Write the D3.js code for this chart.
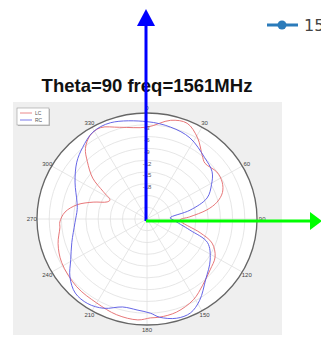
<!DOCTYPE html>
<html><head><meta charset="utf-8">
<script src="https://cdn.jsdelivr.net/npm/d3@7/dist/d3.min.js"></script>
<style>html,body{margin:0;padding:0;background:#fff;overflow:hidden}</style>
</head><body>
<svg id="c" width="321" height="340"></svg>
<script>
const titleText = "Theta=90 freq=1561MHz";
const legendLabel = "1561MHz";
const seriesNames = ["LC", "RC"];
const angleTicks = [0,30,60,90,120,150,180,210,240,270,300,330];
const radialTicks = [-3,-6,-9,-12,-15,-18];
const lcAngles = [0,13,22,31,40,45,55,63,70,76,81,87,92,105,111,120,130,141,151,163,173,178,185,197,210,225,242,254,264,268,275,282,288,294,298,303,308,315,320,327,334,344];
const lcValues = [-3.6,-1.2,-0.7,-2.9,-5.9,-6.9,-6.1,-6.3,-7.3,-9.3,-12.1,-16.5,-18.9,-13.5,-9.9,-7.7,-6.8,-5.3,-3.5,-2.2,-1.8,-1.8,-1.2,-1.5,-2.3,-2.6,-3.3,-4.3,-5.5,-5.6,-6.8,-9.5,-13.1,-16.3,-16.7,-14.2,-10.1,-6.3,-3.5,-1.5,-1.1,-2.7];
const rcAngles = [0,14,27,42,53,61,70,78,87,92,105,112,124,137,148,156,164,173,178,186,195,205,214,223,232,241,252,267,278,284,298,310,319,329,340];
const rcValues = [-2.2,-2.9,-3.8,-5.9,-7.0,-8.9,-11.3,-16.2,-21.3,-20.6,-16.1,-11.0,-8.3,-5.9,-2.6,-0.8,-0.7,-1.8,-3.0,-3.7,-3.8,-1.9,-1.0,-1.2,-3.0,-5.6,-7.6,-9.3,-9.7,-9.3,-7.0,-4.5,-2.9,-1.2,-0.9];

const svg = d3.select("#c");
const cx = 147, cy = 219, R = 106, sx = 1.038;
const r = d3.scaleLinear().domain([-27, 0]).range([0, R]);
const rad = d => d * Math.PI / 180;

// title
svg.append("text").attr("x", 147).attr("y", 92).attr("text-anchor", "middle")
  .attr("font-family", "Liberation Sans, Arial, sans-serif").attr("font-weight", "bold")
  .attr("font-size", 18.5).attr("fill", "#111").text(titleText);

// top-right legend
const lg = svg.append("g");
lg.append("line").attr("x1", 267).attr("x2", 298).attr("y1", 25).attr("y2", 25)
  .attr("stroke", "#2b7bba").attr("stroke-width", 3);
lg.append("circle").attr("cx", 282).attr("cy", 25).attr("r", 4.5).attr("fill", "#2b7bba");
lg.append("text").attr("x", 304).attr("y", 31).attr("font-family", "DejaVu Sans, sans-serif")
  .attr("font-size", 16).attr("fill", "#444").text(legendLabel);

// image-like panel
svg.append("rect").attr("x", 13).attr("y", 102).attr("width", 269).attr("height", 233).attr("fill", "#efefef");

const g = svg.append("g").attr("transform", `translate(${cx},${cy}) scale(${sx},1)`);
g.append("circle").attr("r", R).attr("fill", "#fff");
const ringVals = d3.range(-24, 0, 3);
g.selectAll("circle.ring").data(ringVals).join("circle").attr("class", "ring")
  .attr("r", d => r(d)).attr("fill", "none").attr("stroke", "#e0e0e0").attr("stroke-width", 0.8);
g.selectAll("line.spoke").data(d3.range(0, 360, 30)).join("line").attr("class", "spoke")
  .attr("x1", 0).attr("y1", 0)
  .attr("x2", d => R * Math.sin(rad(d))).attr("y2", d => -R * Math.cos(rad(d)))
  .attr("stroke", "#e0e0e0").attr("stroke-width", 0.8);
g.append("circle").attr("r", R).attr("fill", "none").attr("stroke", "#666").attr("stroke-width", 1.3);

const lineGen = d3.lineRadial().angle(d => rad(d[0])).radius(d => r(d[1])).curve(d3.curveCatmullRomClosed);
const lc = lcAngles.map((a, i) => [a, lcValues[i]]);
const rc = rcAngles.map((a, i) => [a, rcValues[i]]);
const ic = ["#e56a6c", "#5858e4"];
g.append("path").attr("d", lineGen(lc)).attr("fill", "none").attr("stroke", ic[0]).attr("stroke-width", 0.9);
g.append("path").attr("d", lineGen(rc)).attr("fill", "none").attr("stroke", ic[1]).attr("stroke-width", 0.9);

// angle labels
svg.selectAll("text.ang").data(angleTicks).join("text").attr("class", "ang")
  .attr("x", d => cx + 111 * sx * Math.sin(rad(d)))
  .attr("y", d => cy - 111 * Math.cos(rad(d)) + 2)
  .attr("text-anchor", "middle").attr("font-family", "Liberation Sans, Arial, sans-serif")
  .attr("font-size", 6).attr("fill", "#444").text(d => d);
// radial labels
svg.selectAll("text.rt").data(radialTicks).join("text").attr("class", "rt")
  .attr("x", cx).attr("y", d => cy - r(d) + 5.5).attr("text-anchor", "middle")
  .attr("font-family", "Liberation Sans, Arial, sans-serif").attr("font-size", 6).attr("fill", "#555").text(d => d);

// inner legend box
const ib = svg.append("g");
ib.append("rect").attr("x", 18).attr("y", 109).attr("width", 32).attr("height", 17).attr("fill", "#bbb");
ib.append("rect").attr("x", 17).attr("y", 108).attr("width", 32).attr("height", 17).attr("fill", "#fff").attr("stroke", "#999").attr("stroke-width", 0.6);
seriesNames.forEach((s, i) => {
  ib.append("line").attr("x1", 20).attr("x2", 32).attr("y1", 113 + 7 * i).attr("y2", 113 + 7 * i).attr("stroke", ic[i]).attr("stroke-width", 0.8);
  ib.append("text").attr("x", 35).attr("y", 115 + 7 * i).attr("font-family", "Liberation Sans, Arial, sans-serif")
    .attr("font-size", 5).attr("fill", "#555").text(s);
});

// axis arrows
const ox = 146, oy = 221;
const ay = d3.scaleLinear().domain([0, 1]).range([oy, 9]);
const ax = d3.scaleLinear().domain([0, 1]).range([ox, 322]);
svg.append("line").attr("x1", ox).attr("x2", ox).attr("y1", ay(0)).attr("y2", ay(1) + 16)
  .attr("stroke", "#0000ff").attr("stroke-width", 3);
svg.append("path").attr("d", `M${ox - 9},${ay(1) + 17}L${ox + 9},${ay(1) + 17}L${ox},${ay(1)}Z`).attr("fill", "#0000ff");
svg.append("line").attr("x1", ax(0)).attr("x2", ax(1) - 12).attr("y1", oy).attr("y2", oy)
  .attr("stroke", "#00ff00").attr("stroke-width", 3);
svg.append("path").attr("d", `M${ax(1) - 12},${oy - 9}L${ax(1) - 12},${oy + 9}L${ax(1)},${oy}Z`).attr("fill", "#00ff00");
</script>
</body></html>
